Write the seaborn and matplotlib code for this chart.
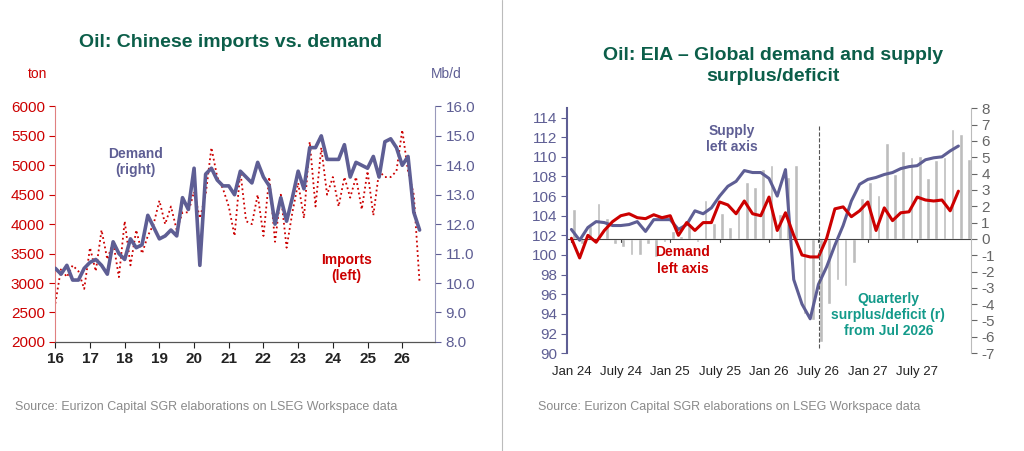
import numpy as np
import pandas as pd
import matplotlib
matplotlib.use("Agg")
import matplotlib.pyplot as plt
import seaborn as sns

sns.set_style("white")
plt.rcParams['font.family'] = ['Liberation Sans', 'DejaVu Sans']
plt.rcParams['axes.unicode_minus'] = False

# ---- left chart: Chinese oil imports vs demand (x in years, step 2 months)
china_demand = [10.5, 10.3, 10.6, 10.1, 10.1, 10.5, 10.7, 10.8, 10.6, 10.3, 11.4, 11.0,
                10.8, 11.5, 11.2, 11.3, 12.3, 11.9, 11.5, 11.6, 11.8, 11.6, 12.9, 12.5,
                13.9, 10.6, 13.7, 13.9, 13.5, 13.3, 13.3, 13.0, 13.8, 13.6, 13.4, 14.1,
                13.6, 13.3, 12.0, 12.9, 12.1, 12.9, 13.8, 13.2, 14.6, 14.6, 15.0, 14.2,
                14.2, 14.2, 14.7, 13.6, 14.1, 14.0, 13.9, 14.3, 13.6, 14.8, 14.9, 14.6,
                14.0, 14.3, 12.4, 11.8]
china_imports = [2650, 3250, 3100, 3300, 3200, 2900, 3600, 3200, 3900, 3400, 3700, 3100,
                 4050, 3300, 3900, 3500, 3800, 4000, 4400, 4000, 4300, 3900, 4200, 4200,
                 4550, 4100, 4500, 5300, 4800, 4600, 4300, 3800, 4900, 4050, 4000, 4500,
                 3800, 4800, 3700, 4500, 3600, 4200, 4700, 4100, 5400, 4300, 5300, 4500,
                 4800, 4300, 4800, 4450, 4800, 4250, 4900, 4150, 4900, 4800, 4800, 4900,
                 5600, 4900, 4500, 3000]
china_years = list(range(16, 27))

# ---- right chart: EIA global demand/supply (monthly Jan 24 - Dec 27)
eia_supply = [102.6, 101.5, 102.8, 103.4, 103.3, 103.0, 103.0, 103.1, 103.4, 102.4, 103.6, 103.6,
              103.6, 102.6, 103.1, 104.5, 104.2, 104.8, 106.0, 107.0, 107.5, 108.6, 108.4, 108.4,
              107.8, 106.0, 108.7, 97.5, 95.0, 93.5, 97.0, 98.8, 101.0, 103.0, 105.5, 107.2,
              107.7, 107.9, 108.2, 108.4, 108.8, 109.0, 109.1, 109.7, 109.9, 110.0, 110.6, 111.1]
eia_demand = [101.7, 99.7, 102.0, 101.3, 102.5, 103.4, 104.0, 104.2, 103.8, 103.7, 104.1, 103.8,
              104.0, 102.0, 103.3, 102.5, 103.3, 103.3, 105.4, 105.1, 104.2, 105.5, 104.2, 104.0,
              105.9, 102.5, 104.3, 102.0, 100.0, 99.8, 99.8, 101.7, 104.7, 104.9, 103.9, 104.5,
              105.4, 102.5, 104.8, 103.5, 104.3, 104.4, 105.9, 105.6, 105.5, 105.6, 104.5, 106.5]
eia_balance = [1.8, -0.3, 0.8, 2.2, 1.3, -0.3, -0.5, -1.0, -1.0, -0.3, -1.1, -0.2,
               0.5, 0.2, 1.0, -0.2, 2.4, 1.0, 1.6, 0.7, 2.0, 3.5, 3.2, 4.3,
               4.5, 1.5, 3.8, 4.5, -4.6, -5.0, -6.3, -4.0, -2.5, -2.9, -1.5, 2.5,
               3.5, 2.7, 5.9, 4.0, 5.4, 5.0, 5.1, 3.7, 4.8, 5.0, 6.7, 6.4, 4.9]
eia_ticks = ["Jan 24", "July 24", "Jan 25", "July 25", "Jan 26", "July 26", "Jan 27", "July 27"]

RED = "#cc0000"
PURPLE = "#5e5e94"
GREEN = "#0b5e49"
GREY = "#8a8a8a"

fig = plt.figure(figsize=(10.24, 4.51), dpi=100)

# ================= left panel
ax1 = fig.add_axes([0.054, 0.242, 0.371, 0.522])
ax1b = ax1.twinx()
left_df = pd.DataFrame({"x": 16 + np.arange(len(china_demand)) / 6,
                        "demand": china_demand, "imports": china_imports})
sns.lineplot(data=left_df, x="x", y="imports", ax=ax1, color=RED, lw=1.3, linestyle=":")
sns.lineplot(data=left_df, x="x", y="demand", ax=ax1b, color=PURPLE, lw=2.6)
ax1.set_xlim(16, 26.95)
ax1.set_ylim(2000, 6000)
ax1b.set_ylim(8, 16)
ax1.set_yticks(range(2000, 6001, 500))
ax1b.set_yticks(np.arange(8, 16.1, 1))
ax1b.set_yticklabels([f"{v:.1f}" for v in np.arange(8, 16.1, 1)])
ax1.set_xticks(china_years)
ax1.set_xticklabels([str(y) for y in china_years], fontweight="bold", fontsize=11)
for a in (ax1, ax1b):
    a.set_xlabel("")
    a.set_ylabel("")
    a.spines["top"].set_visible(False)
ax1.spines["left"].set_color("#e08080")
ax1.spines["right"].set_visible(False)
ax1b.spines["left"].set_visible(False)
ax1b.spines["right"].set_color("#9999bb")
ax1b.spines["bottom"].set_color("#555555")
ax1.tick_params(axis="y", colors=RED, labelsize=11, length=4, direction="out")
ax1.tick_params(axis="x", length=4, direction="out", bottom=True, colors="#222222")
ax1b.tick_params(axis="y", colors=PURPLE, labelsize=11, length=4, direction="out")
ax1.text(-0.02, 1.12, "ton", transform=ax1.transAxes, color=RED, fontsize=10, ha="right")
ax1b.text(1.03, 1.12, "Mb/d", transform=ax1.transAxes, color=PURPLE, fontsize=10, ha="center")
ax1.text(18.3, 4850, "Demand\n(right)", color=PURPLE, fontsize=10, fontweight="bold", ha="center")
ax1.text(24.4, 3050, "Imports\n(left)", color=RED, fontsize=10, fontweight="bold", ha="center")
fig.text(0.225, 0.895, "Oil: Chinese imports vs. demand", color=GREEN, fontsize=14,
         fontweight="bold", ha="center")
fig.text(0.015, 0.09, "Source: Eurizon Capital SGR elaborations on LSEG Workspace data",
         color=GREY, fontsize=9)

# divider
fig.add_artist(plt.Line2D([0.49, 0.49], [0.0, 1.0], color="#bbbbbb", lw=0.8))

# ================= right panel
ax2 = fig.add_axes([0.554, 0.217, 0.394, 0.543])
ax2b = ax2.twinx()
ax2.set_zorder(ax2b.get_zorder() + 1)
ax2.patch.set_visible(False)
bar_x = np.arange(len(eia_balance)) + 0.3
ax2b.bar(bar_x, eia_balance, width=0.45, color="#bdbdbd")
ax2b.axhline(0, color="#444444", lw=0.8)
for m in range(0, 48, 6):
    ax2b.plot([m, m], [0, -0.2], color="#444444", lw=0.8)
ax2b.set_ylim(-7, 8)
ax2b.set_yticks(range(-7, 9))
right_df = pd.DataFrame({"m": np.arange(len(eia_supply)), "supply": eia_supply, "demand": eia_demand})
sns.lineplot(data=right_df, x="m", y="supply", ax=ax2, color=PURPLE, lw=2.2)
sns.lineplot(data=right_df, x="m", y="demand", ax=ax2, color=RED, lw=2.2)
ax2.axvline(30.1, ymin=0.02, ymax=0.93, color="#555555", lw=0.8, ls="--")
ax2.set_xlim(-0.5, 48.5)
ax2.set_ylim(90, 114.95)
ax2.set_yticks(range(90, 115, 2))
ax2.set_xticks(range(0, 48, 6))
ax2.set_xticklabels(eia_ticks, fontsize=9.5)
for a in (ax2, ax2b):
    a.set_xlabel("")
    a.set_ylabel("")
    a.spines["top"].set_visible(False)
    a.spines["bottom"].set_visible(False)
ax2.spines["right"].set_visible(False)
ax2.spines["left"].set_color(PURPLE)
ax2.spines["left"].set_linewidth(1.5)
ax2b.spines["left"].set_visible(False)
ax2b.spines["right"].set_color("#bbbbbb")
ax2.tick_params(axis="y", colors=PURPLE, labelsize=11, length=4, direction="out")
ax2.tick_params(axis="x", length=0, pad=9, colors="#222222")
ax2b.tick_params(axis="y", colors="#666666", labelsize=11, length=4, direction="out")
ax2.text(19.5, 110.6, "Supply\nleft axis", color=PURPLE, fontsize=10, fontweight="bold", ha="center")
ax2.text(13.5, 98.2, "Demand\nleft axis", color=RED, fontsize=10, fontweight="bold", ha="center")
ax2.text(38.5, 91.8, "Quarterly\nsurplus/deficit (r)\nfrom Jul 2026", color="#139a8a",
         fontsize=10, fontweight="bold", ha="center", linespacing=1.2)
fig.text(0.755, 0.82, "Oil: EIA \u2013 Global demand and supply\nsurplus/deficit", color=GREEN,
         fontsize=14, fontweight="bold", ha="center", linespacing=1.3)
fig.text(0.525, 0.09, "Source: Eurizon Capital SGR elaborations on LSEG Workspace data",
         color=GREY, fontsize=9)

fig.savefig("out.png", dpi=100)
